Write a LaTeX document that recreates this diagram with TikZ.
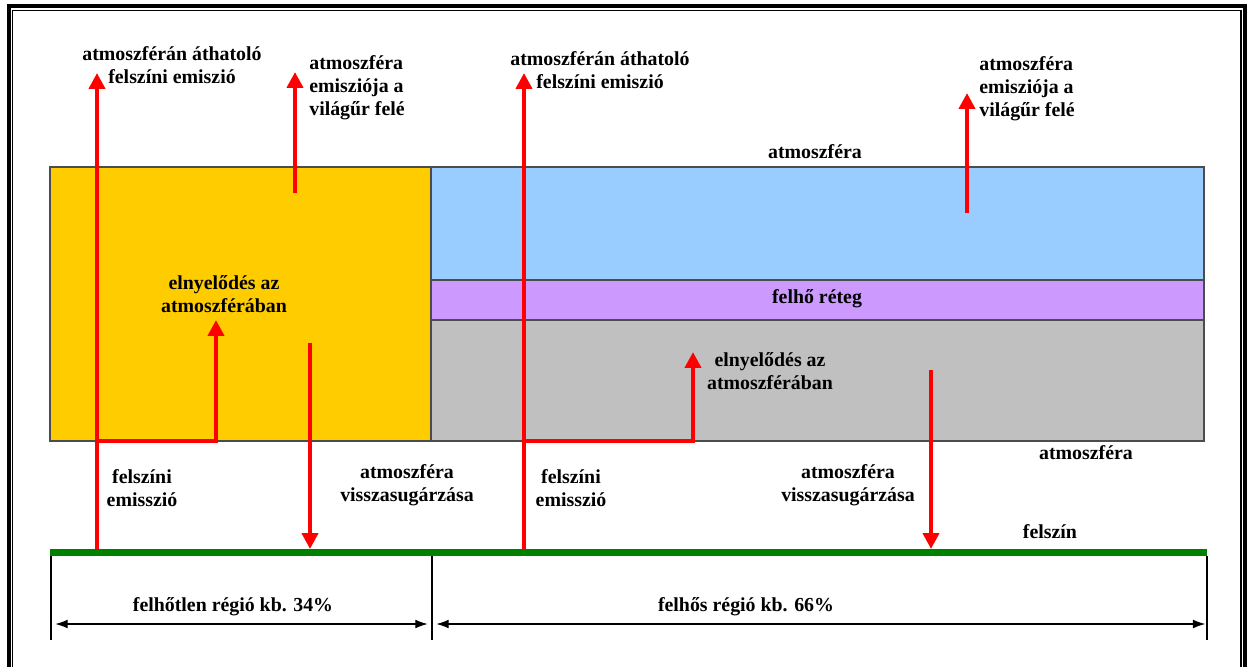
\documentclass[tikz,border=0pt]{standalone}
\usepackage{fontspec}
\setmainfont{Liberation Serif}
\usetikzlibrary{arrows.meta}
\definecolor{sunny}{HTML}{FFCC00}
\definecolor{skyblue}{HTML}{99CCFF}
\definecolor{cloudlila}{HTML}{CC99FF}
\definecolor{lowgray}{HTML}{C0C0C0}
\definecolor{ground}{HTML}{008000}
\tikzset{
  flux/.style={red, line width=2.6pt, -{Triangle[width=9pt,length=9pt]}},
  dim/.style={black, line width=0.6pt, {Latex[width=5pt,length=7pt]}-{Latex[width=5pt,length=7pt]}},
  layer/.style={draw=black!70, line width=0.6pt},
  lbl/.style={font=\bfseries\fontsize{11.3}{13}\selectfont, align=center, inner sep=0pt},
  lbll/.style={lbl, align=left, anchor=west}
}
\begin{document}
\begin{tikzpicture}[x=0.02cm,y=-0.02cm]
  \useasboundingbox (0,0) rectangle (1248,667);
  % keret
  \draw[line width=2pt] (9,667) |- (1245,6) -- (1245,667);
  \draw[line width=0.6pt] (12.5,667) |- (1241,10.5) -- (1241,667);

  % retegek
  \fill[sunny] (50,167) rectangle (431,441);
  \fill[skyblue] (431,167) rectangle (1204,280);
  \fill[cloudlila] (431,280) rectangle (1204,320);
  \fill[lowgray] (431,320) rectangle (1204,441);
  \draw[layer] (50,167) rectangle (431,441);
  \draw[layer] (431,167) rectangle (1204,441);
  \draw[layer] (431,280) rectangle (1204,320);

  % felszin
  \draw[ground, line width=4.4pt] (50,552.5) -- (1207,552.5);

  \begin{scope}[font=\bfseries]
    \foreach \x/\n in {51/a,432/b,1207/c}{%
      \draw[line width=0.6pt] (\x,556) -- (\x,640);
      \coordinate (d\n) at (\x,624);}
    \draw[dim] ([xshift=2.5pt]da) -- ([xshift=-2.5pt]db);
    \draw[dim] ([xshift=2.5pt]db) -- ([xshift=-1pt]dc);

    % sugarzas
    \coordinate (s1) at (97,549);   \coordinate (e1) at (97,73);
    \coordinate (s2) at (295,193);  \coordinate (e2) at (295,72);
    \coordinate (s3) at (97,441);   \coordinate (e3) at (216,320);
    \coordinate (s4) at (310,343);  \coordinate (e4) at (310,549);
    \coordinate (s5) at (524,549);  \coordinate (e5) at (524,73);
    \coordinate (s6) at (524,441);  \coordinate (e6) at (693,352);
    \coordinate (s7) at (967,213);  \coordinate (e7) at (967,93);
    \coordinate (s8) at (931,370);  \coordinate (e8) at (931,549);
    \draw[flux] (s1) -- (e1);
    \draw[flux] (s2) -- (e2);
    \draw[flux] (s3) -| (e3);
    \draw[flux] (s4) -- (e4);
    \draw[flux] (s5) -- (e5);
    \draw[flux] (s6) -| (e6);
    \draw[flux] (s7) -- (e7);
    \draw[flux] (s8) -- (e8);

    \node[lbl] (athat1) at (172,65) {atmoszférán áthatoló\\felszíni emiszió};
    \node[lbll] (kisug1) at (309,88) {atmoszféra\\emiszió­ja a\\világűr felé};
    \node[lbl] (athat2) at (600,70) {atmoszférán áthatoló\\felszíni emiszió};
    \node[lbll] (kisug2) at (979,89) {atmoszféra\\emiszió­ja a\\világűr felé};
    \node[lbl] (legkor1) at (815,152) {atmoszféra};
    \node[lbl] (elnyel1) at (224,294) {elnyelődés az\\atmoszférában};
    \node[lbl] (felho) at (817,299) {felhő réteg};
    \node[lbl] (elnyel2) at (770,371) {elnyelődés az\\atmoszférában};
    \node[lbl] (legkor2) at (1086,453) {atmoszféra};
    \node[lbl] (emisz1) at (142,488) {felszíni\\emisszió};
    \node[lbl] (vissza1) at (407,485) {atmoszféra\\visszasugárzása};
    \node[lbl] (emisz2) at (571,488) {felszíni\\emisszió};
    \node[lbl] (vissza2) at (848,485) {atmoszféra\\visszasugárzása};
    \node[lbl] (felszin) at (1050,532) {felszín};
    \node[lbl] (derult) at (233,607) {felhőtlen régió kb. 34\%};
    \node[lbl] (felhos) at (746,607) {felhős régió kb. 66\%};
  \end{scope}
\end{tikzpicture}
\end{document}
